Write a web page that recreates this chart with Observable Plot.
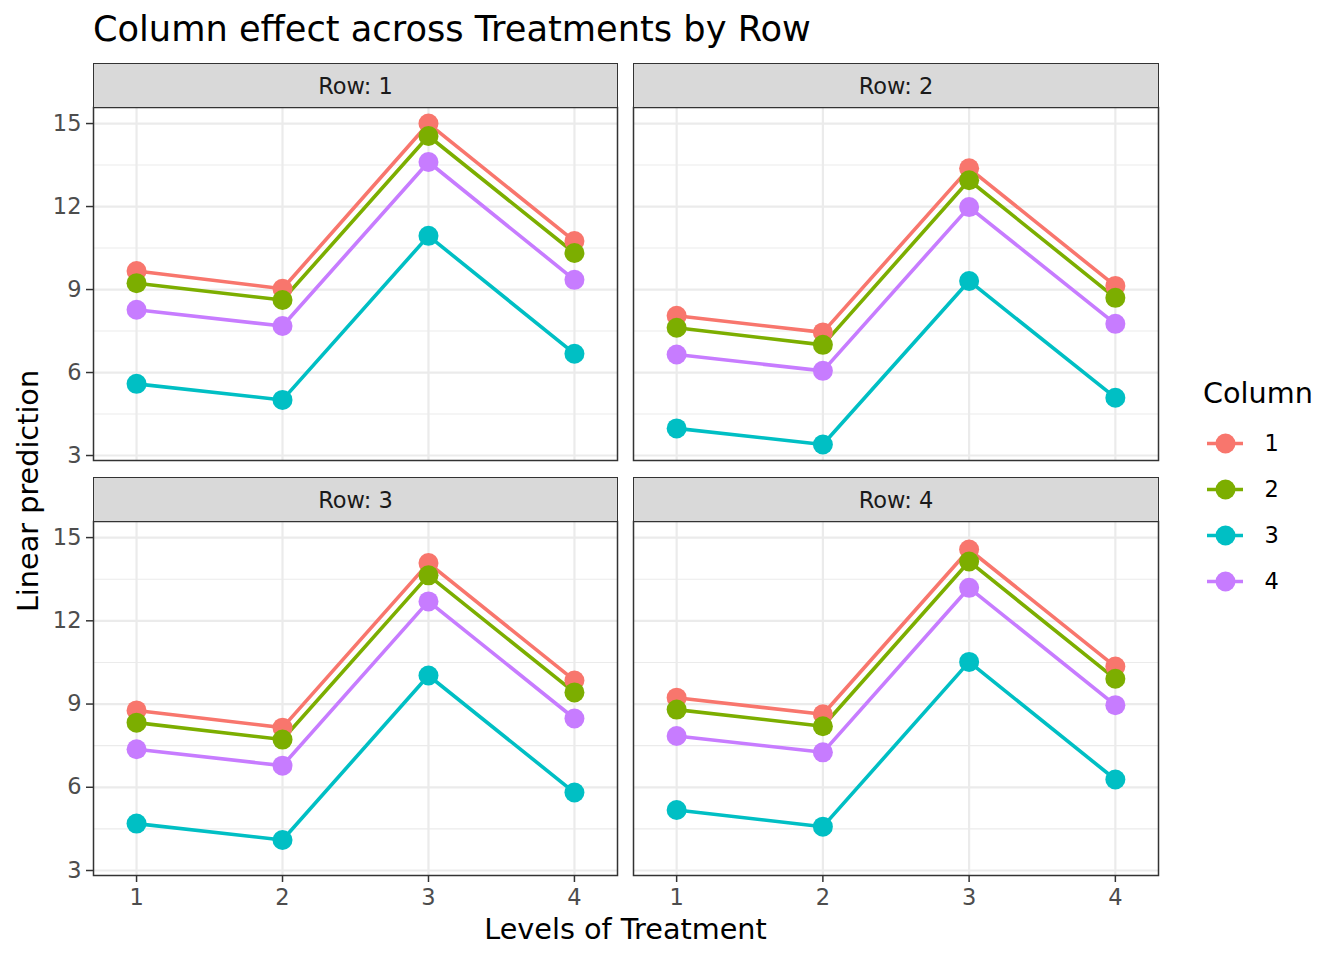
<!DOCTYPE html>
<html>
<head>
<meta charset="utf-8">
<script src="https://cdn.jsdelivr.net/npm/d3@7"></script>
<script src="https://cdn.jsdelivr.net/npm/@observablehq/plot@0.6"></script>
<style>
  html, body { margin: 0; padding: 0; background: #fff; }
  #root { position: relative; width: 1344px; height: 960px; font-family: "DejaVu Sans", sans-serif; overflow: hidden; }
  #root svg { position: absolute; overflow: visible; background: transparent; max-width: none; }
  .strip { position: absolute; box-sizing: border-box; background: #D9D9D9; border: 1.5px solid #333333;
           display: flex; align-items: center; justify-content: center; font-size: 22.5px; color: #1A1A1A; }
</style>
</head>
<body>
<div id="root"></div>
<script>
// ---- data ----
const treatments = [1, 2, 3, 4];
const columns = ["1", "2", "3", "4"];
const rows = [1, 2, 3, 4];
const colors = ["#F8766D", "#7CAE00", "#00BFC4", "#C77CFF"];
// each row: one array per Column (values for Treatment 1..4)
const row1 = [[9.67, 9.03, 15.00, 10.75], [9.23, 8.62, 14.55, 10.32], [5.59, 5.01, 10.94, 6.68], [8.27, 7.68, 13.61, 9.35]];
const row2 = [[8.05, 7.45, 13.38, 9.13], [7.62, 7.00, 12.95, 8.70], [3.98, 3.40, 9.31, 5.09], [6.65, 6.06, 11.98, 7.76]];
const row3 = [[8.77, 8.15, 14.08, 9.85], [8.33, 7.72, 13.64, 9.42], [4.69, 4.10, 10.03, 5.81], [7.37, 6.78, 12.70, 8.48]];
const row4 = [[9.23, 8.63, 14.57, 10.35], [8.80, 8.20, 14.14, 9.91], [5.18, 4.58, 10.52, 6.28], [7.85, 7.26, 13.19, 8.96]];
const yTicks = [3, 6, 9, 12, 15];
const yMinor = [4.5, 7.5, 10.5, 13.5];
const titleText = "Column effect across Treatments by Row";
const xTitle = "Levels of Treatment";
const yTitle = "Linear prediction";
const legendTitle = "Column";

const rowData = [row1, row2, row3, row4];
const data = [];
rows.forEach((r, ri) => {
  columns.forEach((c, ci) => {
    treatments.forEach((t, ti) => data.push({row: r, column: c, treatment: t, value: rowData[ri][ci][ti]}));
  });
});

const root = document.getElementById("root");
const FONT = "DejaVu Sans";

// panel geometry
const panelsX = [[93, 617], [633, 1158]];
const panelsY = [[107, 460], [521, 875]];
const stripsY = [[63, 108], [477, 522]];

function makePanel(r) {
  const ci = (r - 1) % 2, ri = Math.floor((r - 1) / 2);
  const [x0, x1] = panelsX[ci];
  const [y0, y1] = panelsY[ri];
  const showY = ci === 0, showX = ri === 1;
  const mL = showY ? 60 : 4, mR = 4, mT = 4, mB = showX ? 44 : 4;
  const w = (x1 - x0) + mL + mR;
  const h = (y1 - y0) + mT + mB;
  const d = data.filter(e => e.row === r);
  const marks = [
    Plot.gridY(yMinor, {stroke: "#EBEBEB", strokeOpacity: 1, strokeWidth: 1.1}),
    Plot.gridY(yTicks, {stroke: "#EBEBEB", strokeOpacity: 1, strokeWidth: 2.2}),
    Plot.gridX(treatments, {stroke: "#EBEBEB", strokeOpacity: 1, strokeWidth: 2.2}),
    Plot.line(d, {x: "treatment", y: "value", z: "column", stroke: "column", strokeWidth: 3.6}),
    Plot.dot(d, {x: "treatment", y: "value", fill: "column", r: 10, stroke: "none"}),
    Plot.frame({stroke: "#333333", strokeWidth: 1.5})
  ];
  if (showY) marks.push(Plot.axisY(yTicks, {tickSize: 7, tickPadding: 5, fontSize: 22.5, fill: "#4D4D4D", stroke: "#333333", strokeWidth: 1.5, label: null}));
  if (showX) marks.push(Plot.axisX(treatments, {tickSize: 7, tickPadding: 7, fontSize: 22.5, fill: "#4D4D4D", stroke: "#333333", strokeWidth: 1.5, label: null, tickFormat: d => String(d)}));
  const svg = Plot.plot({
    width: w, height: h,
    marginLeft: mL, marginRight: mR, marginTop: mT, marginBottom: mB,
    style: {fontFamily: FONT, fontSize: "22.5px", background: "transparent", overflow: "visible"},
    x: {domain: [0.705, 4.295], axis: null},
    y: {domain: [2.82, 15.58], axis: null},
    color: {domain: columns, range: colors},
    marks
  });
  svg.style.left = (x0 - mL) + "px";
  svg.style.top = (y0 - mT) + "px";
  root.appendChild(svg);

  const strip = document.createElement("div");
  strip.className = "strip";
  strip.style.left = x0 + "px";
  strip.style.width = (x1 - x0 + 1) + "px";
  strip.style.top = stripsY[ri][0] + "px";
  strip.style.height = (stripsY[ri][1] - stripsY[ri][0]) + "px";
  strip.textContent = "Row: " + r;
  root.appendChild(strip);
}
rows.forEach(makePanel);

// legend
const legend = Plot.plot({
  width: 140, height: 184,
  marginLeft: 0, marginRight: 0, marginTop: 23, marginBottom: 23,
  style: {fontFamily: FONT, fontSize: "22.5px", background: "transparent", overflow: "visible"},
  x: {domain: [0, 140], axis: null},
  y: {type: "point", domain: columns, padding: 0, axis: null},
  color: {domain: columns, range: colors},
  marks: [
    Plot.ruleY(columns, {y: d => d, x1: 7, x2: 43, stroke: d => d, strokeWidth: 3.6}),
    Plot.dot(columns, {y: d => d, x: 25, fill: d => d, r: 10, stroke: "none"}),
    Plot.text(columns, {y: d => d, x: 64, text: d => d, textAnchor: "start", fontSize: 22.5, fill: "#000"})
  ]
});
legend.style.left = "1200px";
legend.style.top = "420px";
root.appendChild(legend);

// titles
const ov = d3.select(root).append("svg")
  .attr("width", 1344).attr("height", 960)
  .style("left", "0px").style("top", "0px").style("pointer-events", "none")
  .attr("font-family", FONT);
ov.append("text").attr("x", 93).attr("y", 41).attr("font-size", 35.2).attr("fill", "#000").text(titleText);
ov.append("text").attr("x", 625.5).attr("y", 939).attr("font-size", 28.7).attr("text-anchor", "middle").attr("fill", "#000").text(xTitle);
ov.append("text").attr("transform", "translate(38,491) rotate(-90)").attr("font-size", 28.7).attr("text-anchor", "middle").attr("fill", "#000").text(yTitle);
ov.append("text").attr("x", 1203).attr("y", 403).attr("font-size", 28.7).attr("fill", "#000").text(legendTitle);
</script>
</body>
</html>
